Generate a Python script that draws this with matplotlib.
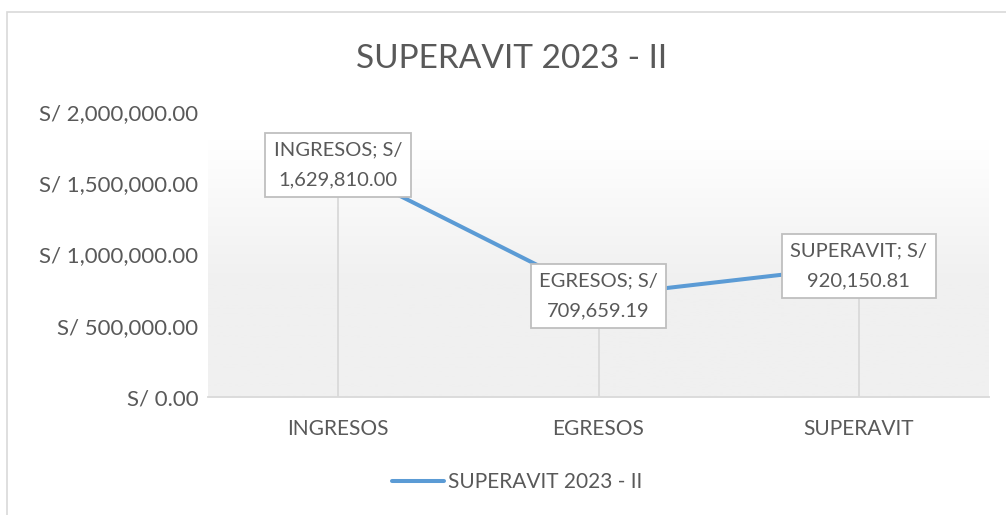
import numpy as np
import matplotlib.pyplot as plt
from matplotlib.patches import Rectangle
from matplotlib.lines import Line2D
from matplotlib.ticker import FuncFormatter

# datos
categorias = ["INGRESOS", "EGRESOS", "SUPERAVIT"]
valores = [1629810.00, 709659.19, 920150.81]
serie = "SUPERAVIT 2023 - II"
titulo = "SUPERAVIT 2023 - II"
y_ticks = [0, 500000, 1000000, 1500000, 2000000]

gris_texto = "#595959"
azul = "#5b9bd5"
plt.rcParams["font.family"] = ["Lato", "DejaVu Sans"]

W, H = 1006, 515
fig = plt.figure(figsize=(W / 100, H / 100), dpi=100)
ax = fig.add_axes([208 / W, (H - 397) / H, (989 - 208) / W, (397 - 112) / H])

x = np.arange(len(categorias))
ax.set_xlim(-0.5, len(categorias) - 0.5)
ax.set_ylim(0, 2000000)

# fondo degradado (blanco arriba, gris claro abajo)
grad = np.linspace(0, 1, 256).reshape(-1, 1)
top = np.array([1.0, 1.0, 1.0])
bot = np.array([0xf0, 0xf0, 0xf0]) / 255
t = np.clip((grad - 0.1) / 0.5, 0, 1)
img = (top + (bot - top) * t).reshape(256, 1, 3)
ax.imshow(img, extent=[0, 1, 0, 1], origin="upper", transform=ax.transAxes,
          aspect="auto", zorder=0)

# lineas de caida
for xi, v in zip(x, valores):
    ax.plot([xi, xi], [0, v], color="#d9d9d9", lw=1.3, zorder=1)

ax.plot(x, valores, color=azul, lw=2.9, solid_capstyle="round", zorder=2)

# etiquetas de datos
for xi, cat, v in zip(x, categorias, valores):
    ax.text(xi, v, f"{cat}; S/\n{v:,.2f}", ha="center", va="center",
            fontsize=14.5, color=gris_texto, linespacing=1.9, zorder=3,
            bbox=dict(boxstyle="square,pad=0.42", fc="white", ec="#bfbfbf", lw=1.3))

ax.set_xticks(x)
ax.set_xticklabels(categorias)
ax.set_yticks(y_ticks)
ax.yaxis.set_major_formatter(FuncFormatter(lambda v, p: f"S/ {v:,.2f}"))
ax.tick_params(length=0, colors=gris_texto)
ax.tick_params(axis="x", pad=16, labelsize=15)
ax.tick_params(axis="y", pad=7, labelsize=16)
for s in ["top", "right", "left"]:
    ax.spines[s].set_visible(False)
ax.spines["bottom"].set_color("#d9d9d9")
ax.spines["bottom"].set_linewidth(1.3)

fig.text(512 / W, 1 - 59 / H, titulo, ha="center", va="center",
         fontsize=24, color=gris_texto)

h = Line2D([], [], color=azul, lw=2.9, solid_capstyle="round")
fig.legend([h], [serie], loc="center", bbox_to_anchor=(517 / W, 1 - 482 / H),
           frameon=False, fontsize=15, labelcolor=gris_texto,
           handlelength=2.5, handletextpad=0.2)

# borde del grafico
fig.add_artist(Rectangle((7 / W, -0.1), 2, 1.1 - 12 / H, transform=fig.transFigure,
                         fill=False, ec="#d9d9d9", lw=1.2))

fig.savefig("out.png", dpi=100)
